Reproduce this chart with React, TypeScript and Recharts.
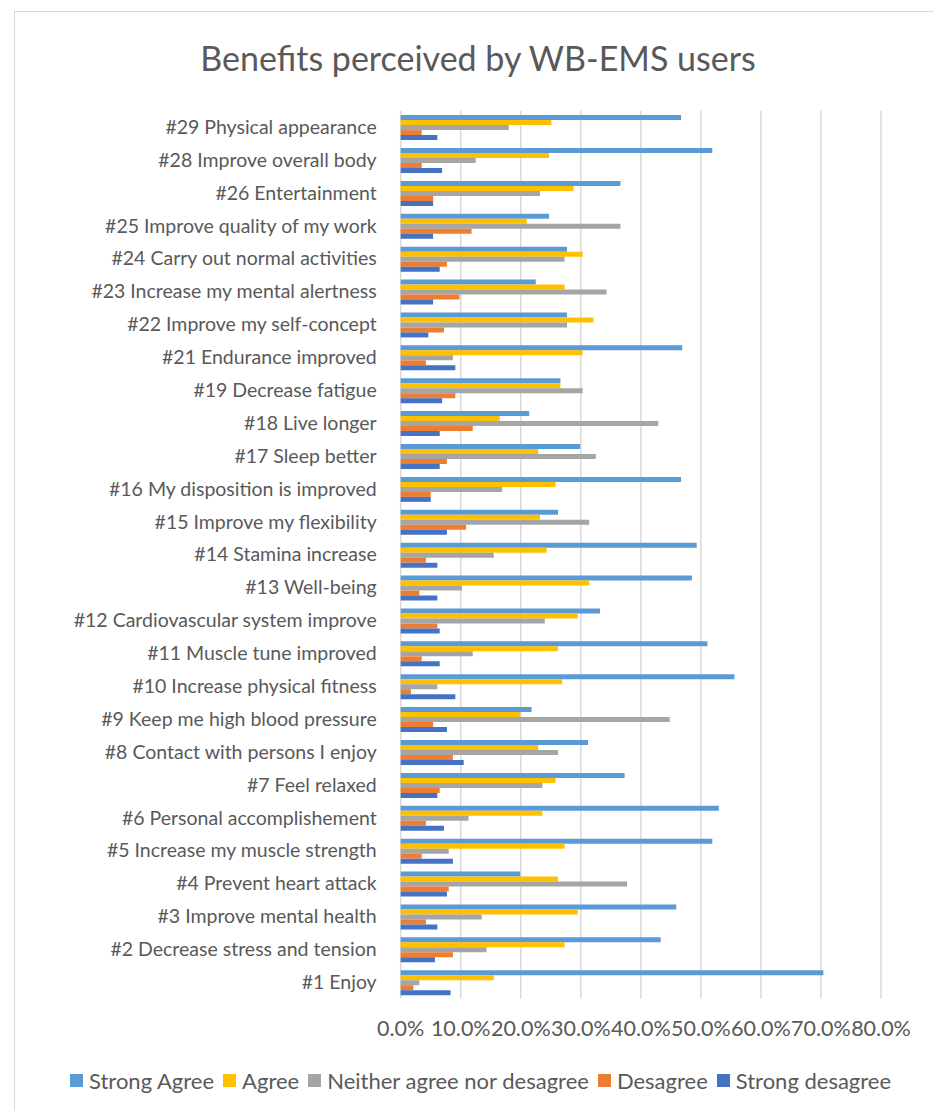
import React from 'react';
import { BarChart, Bar, XAxis, YAxis, CartesianGrid, Legend } from 'recharts';

const categories = [
  '#29 Physical appearance',
  '#28 Improve overall body',
  '#26 Entertainment',
  '#25 Improve quality of my work',
  '#24 Carry out normal activities',
  '#23 Increase my mental alertness',
  '#22 Improve my self-concept',
  '#21 Endurance improved',
  '#19 Decrease fatigue',
  '#18 Live longer',
  '#17 Sleep better',
  '#16 My disposition is improved',
  '#15 Improve my flexibility',
  '#14 Stamina increase',
  '#13 Well-being',
  '#12 Cardiovascular system improve',
  '#11 Muscle tune improved',
  '#10 Increase physical fitness',
  '#9 Keep me high blood pressure',
  '#8 Contact with persons I enjoy',
  '#7 Feel relaxed',
  '#6 Personal accomplishement',
  '#5 Increase my muscle strength',
  '#4 Prevent heart attack',
  '#3 Improve mental health',
  '#2 Decrease stress and tension',
  '#1 Enjoy',
];

const strongAgree = [46.7, 51.9, 36.6, 24.7, 27.7, 22.5, 27.7, 46.9, 26.6, 21.4, 29.9, 46.7, 26.2, 49.3, 48.5, 33.2, 51.1, 55.6, 21.8, 31.2, 37.3, 53.0, 51.9, 19.9, 45.9, 43.3, 70.4];
const agree = [25.1, 24.7, 28.8, 21.0, 30.3, 27.3, 32.1, 30.3, 26.6, 16.5, 22.9, 25.8, 23.2, 24.3, 31.4, 29.5, 26.2, 26.9, 19.9, 22.9, 25.8, 23.6, 27.3, 26.2, 29.5, 27.3, 15.5];
const neither = [18.0, 12.5, 23.2, 36.6, 27.3, 34.3, 27.7, 8.7, 30.3, 42.9, 32.5, 16.9, 31.4, 15.5, 10.2, 24.0, 12.0, 6.1, 44.8, 26.2, 23.6, 11.3, 8.0, 37.7, 13.5, 14.3, 3.1];
const desagree = [3.5, 3.5, 5.4, 11.8, 7.7, 9.8, 7.2, 4.2, 9.1, 12.0, 7.7, 5.0, 10.9, 4.2, 3.1, 6.1, 3.5, 1.7, 5.4, 8.7, 6.5, 4.2, 3.5, 8.0, 4.2, 8.7, 2.1];
const strongDesagree = [6.1, 6.9, 5.4, 5.4, 6.5, 5.4, 4.6, 9.1, 6.9, 6.5, 6.5, 5.0, 7.7, 6.1, 6.1, 6.5, 6.5, 9.1, 7.7, 10.5, 6.1, 7.2, 8.7, 7.7, 6.1, 5.7, 8.3];

const xTicks = [0, 10, 20, 30, 40, 50, 60, 70, 80];

const seriesNames = ['Strong Agree', 'Agree', 'Neither agree nor desagree', 'Desagree', 'Strong desagree'];
const seriesKeys = ['sa', 'a', 'n', 'd', 'sd'];
const seriesColors = ['#5B9BD5', '#FFC000', '#A5A5A5', '#ED7D31', '#4472C4'];

const data = categories.map((c, i) => ({
  name: c,
  sa: strongAgree[i],
  a: agree[i],
  n: neither[i],
  d: desagree[i],
  sd: strongDesagree[i],
}));

const FONT = 'Lato, "Noto Sans", sans-serif';
const TEXT = '#595959';

const LegendContent = () => (
  <div style={{ display: 'flex', alignItems: 'center', paddingLeft: 70, fontFamily: FONT, fontSize: 22, color: TEXT, whiteSpace: 'nowrap' }}>
    {seriesNames.map((n, i) => (
      <div key={n} style={{ display: 'flex', alignItems: 'center', marginRight: 9 }}>
        <span style={{ display: 'inline-block', width: 13, height: 13, background: seriesColors[i], marginRight: 6 }} />
        <span>{n}</span>
      </div>
    ))}
  </div>
);

export default function App() {
  return (
    <div style={{ position: 'absolute', left: 0, top: 0, width: 934, height: 1111, background: '#fff', overflow: 'hidden' }}>
      <div style={{ position: 'absolute', left: 14, top: 11, width: 1000, height: 1200, borderTop: '1.5px solid #d9d9d9', borderLeft: '1.5px solid #d9d9d9' }} />
      <div style={{ position: 'absolute', left: 14, top: 37, width: 928, textAlign: 'center', fontFamily: FONT, fontSize: 34, color: TEXT, lineHeight: '42px' }}>
        Benefits perceived by WB-EMS users
      </div>
      <div style={{ position: 'absolute', left: 0, top: 0 }}>
        <BarChart
          width={934}
          height={1111}
          data={data}
          layout="vertical"
          margin={{ top: 110.5, right: 53, bottom: 72.5, left: 10.7 }}
          barCategoryGap="14%"
          barGap={0}
        >
          <CartesianGrid horizontal={false} stroke="#d9d9d9" strokeWidth={1.5} />
          <XAxis
            type="number"
            domain={[0, 80]}
            ticks={xTicks}
            interval={0}
            tickFormatter={(v: number) => v.toFixed(1) + '%'}
            axisLine={false}
            tickLine={false}
            height={40}
            tickMargin={16}
            tick={{ fill: TEXT, fontSize: 21.5, fontFamily: FONT }}
          />
          <YAxis
            type="category"
            dataKey="name"
            width={390}
            interval={0}
            axisLine={false}
            tickLine={false}
            tickMargin={18}
            tick={{ fill: TEXT, fontSize: 19.5, fontFamily: FONT }}
          />
          <Legend
            layout="horizontal"
            verticalAlign="middle"
            align="center"
            content={<LegendContent />}
            wrapperStyle={{ top: 1067, left: 0, width: 934, height: 28 }}
          />
          {seriesKeys.map((k, i) => (
            <Bar key={k} dataKey={k} name={seriesNames[i]} fill={seriesColors[i]} isAnimationActive={false} />
          ))}
        </BarChart>
      </div>
    </div>
  );
}
